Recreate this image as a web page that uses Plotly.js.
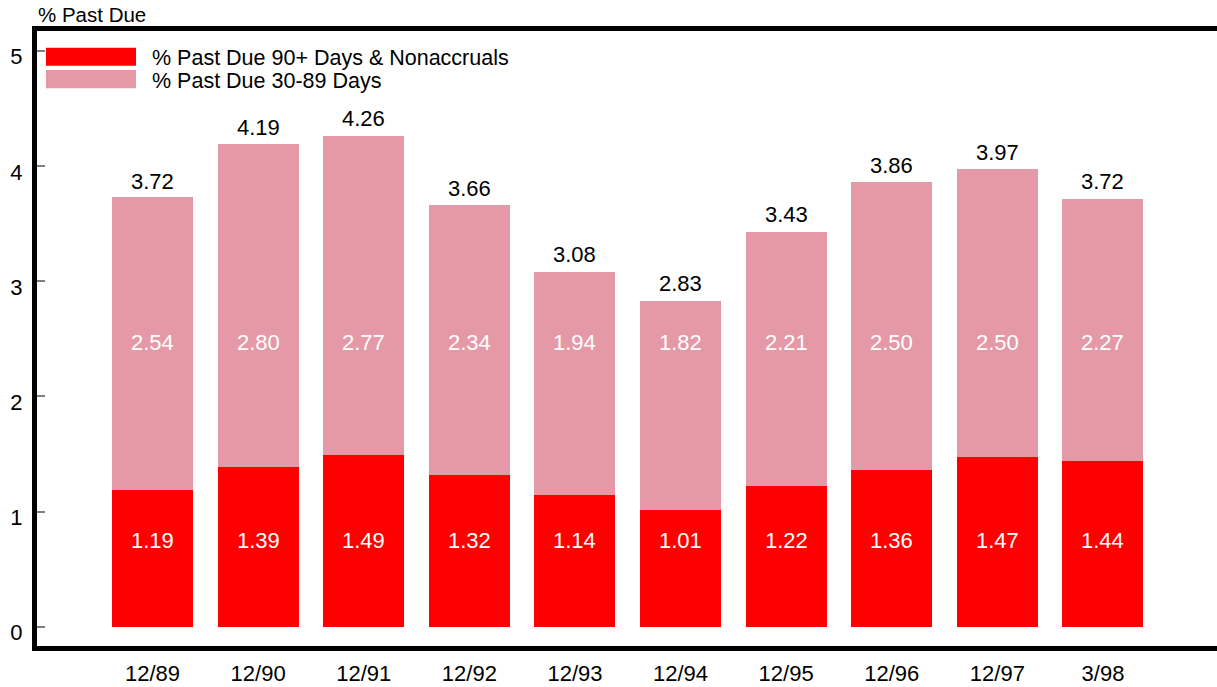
<!DOCTYPE html>
<html>
<head>
<meta charset="utf-8">
<script src="https://cdn.plot.ly/plotly-3.0.1.min.js"></script>
<style>
  html, body { margin: 0; padding: 0; background: #fff; overflow: hidden; }
  #chart { width: 1217px; height: 687px; }
</style>
</head>
<body>
<div id="chart"></div>
<script>
// Loan delinquency, percent of loans past due, by period
const periods = ['12/89', '12/90', '12/91', '12/92', '12/93', '12/94', '12/95', '12/96', '12/97', '3/98'];
const pastDue90Plus = [1.19, 1.39, 1.49, 1.32, 1.14, 1.01, 1.22, 1.36, 1.47, 1.44];
const pastDue30to89 = [2.54, 2.80, 2.77, 2.34, 1.94, 1.82, 2.21, 2.50, 2.50, 2.27];
const totalPastDue = [3.72, 4.19, 4.26, 3.66, 3.08, 2.83, 3.43, 3.86, 3.97, 3.72];
const seriesNames = ['% Past Due 90+ Days & Nonaccruals', '% Past Due 30-89 Days'];
const yTicks = [0, 1, 2, 3, 4, 5];

const RED = '#FF0000';
const PINK = '#E599A6';
const FONT = 'Liberation Sans, Arial, sans-serif';
const FS = 22;

const traces = [
  { type: 'bar', x: periods, y: pastDue90Plus, name: seriesNames[0],
    marker: { color: RED, line: { width: 0 } }, hoverinfo: 'skip' },
  { type: 'bar', x: periods, y: pastDue30to89, name: seriesNames[1],
    marker: { color: PINK, line: { width: 0 } }, hoverinfo: 'skip' }
];

const annotations = [];
// segment values, written at fixed heights inside the bars
periods.forEach((p, i) => {
  annotations.push({ x: p, y: 0.75, xref: 'x', yref: 'y', text: pastDue90Plus[i].toFixed(2),
    showarrow: false, font: { family: FONT, size: FS, color: '#fff' } });
  annotations.push({ x: p, y: 2.465, xref: 'x', yref: 'y', text: pastDue30to89[i].toFixed(2),
    showarrow: false, font: { family: FONT, size: FS, color: '#fff' } });
  // totals above each stack
  annotations.push({ x: p, y: totalPastDue[i], xref: 'x', yref: 'y', text: totalPastDue[i].toFixed(2),
    showarrow: false, yanchor: 'middle', yshift: 17, font: { family: FONT, size: FS, color: '#000' } });
});

// axis title above the plot frame
annotations.push({ x: 0, y: 1, xref: 'paper', yref: 'paper', xanchor: 'left', yanchor: 'bottom',
  yshift: 3, xshift: -1, text: '% Past Due', showarrow: false, font: { family: FONT, size: 20.5, color: '#000' } });

// legend entries, drawn as wide colour swatches with labels
const legendRows = [
  { color: RED, y0: 0.9436, y1: 0.9728, ty: 0.9561 },
  { color: PINK, y0: 0.9068, y1: 0.9366, ty: 0.9187 }
];
const shapes = [];
legendRows.forEach((r, i) => {
  shapes.push({ type: 'rect', xref: 'paper', yref: 'paper', x0: 0.0076, x1: 0.0839,
    y0: r.y0, y1: r.y1, fillcolor: r.color, line: { width: 0 } });
  annotations.push({ x: 0.0966, y: r.ty, xref: 'paper', yref: 'paper', xanchor: 'left', yanchor: 'middle',
    borderpad: 0, text: seriesNames[i], showarrow: false, font: { family: FONT, size: 21.5, color: '#000' } });
});

const layout = {
  width: 1217, height: 687,
  margin: { l: 37, r: 0, t: 31, b: 41, pad: 0 },
  paper_bgcolor: '#fff', plot_bgcolor: '#fff',
  barmode: 'stack', bargap: 0.233,
  showlegend: false,
  font: { family: FONT, size: FS, color: '#000' },
  xaxis: {
    type: 'category', range: [-1.094, 10.08],
    showline: true, linewidth: 5, linecolor: '#000', mirror: true,
    ticks: '', showgrid: false, zeroline: false, ticklabelstandoff: 4,
    tickfont: { family: FONT, size: FS, color: '#000' }
  },
  yaxis: {
    range: [-0.1675, 5.171], tickvals: yTicks,
    showline: true, linewidth: 5, linecolor: '#000', mirror: false,
    ticks: 'inside', ticklen: 8, tickwidth: 2, tickcolor: '#808080',
    showgrid: false, zeroline: false, ticklabelshift: 6, ticklabelstandoff: 5,
    tickfont: { family: FONT, size: FS, color: '#000' }
  },
  shapes: shapes,
  annotations: annotations
};

Plotly.newPlot('chart', traces, layout, { staticPlot: true, displayModeBar: false });
</script>
</body>
</html>
